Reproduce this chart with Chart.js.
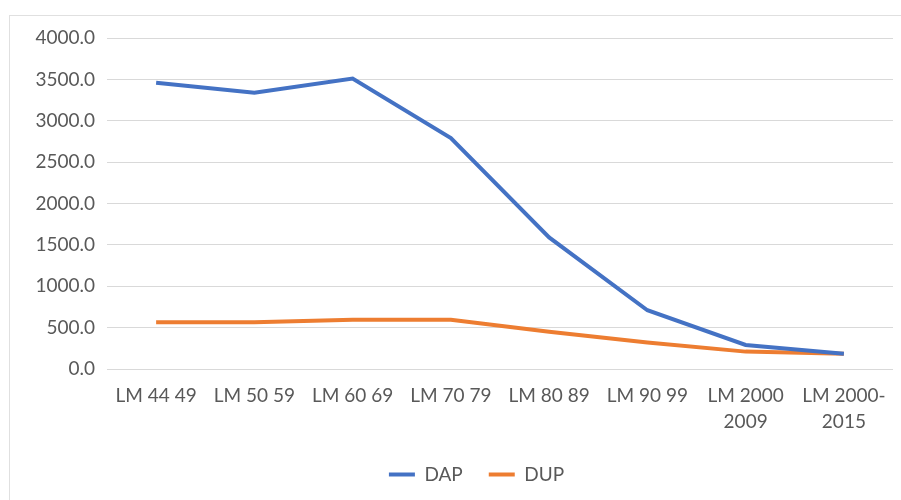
<!DOCTYPE html>
<html>
<head>
<meta charset="utf-8">
<script src="https://cdn.jsdelivr.net/npm/chart.js@4"></script>
<style>
  html, body { margin: 0; padding: 0; background: #fff; overflow: hidden; }
  #wrap { position: relative; width: 901px; height: 500px; }
  #frame { position: absolute; left: 9px; top: 15px; width: 900px; height: 500px; border: 1px solid #e0e0e0; }
  canvas { position: absolute; left: 0; top: 0; }
</style>
</head>
<body>
<div id="wrap">
  <div id="frame"></div>
  <canvas id="chart" width="901" height="500"></canvas>
</div>
<script>
// categories (x axis)
const periods = [
    'LM 44 49', 'LM 50 59', 'LM 60 69', 'LM 70 79',
    'LM 80 89', 'LM 90 99', ['LM 2000', '2009'], ['LM 2000-', '2015']
];

// series values
const dapValues = [3460, 3340, 3510, 2790, 1590, 710, 290, 185];
const dupValues = [565, 565, 595, 595, 450, 320, 210, 185];

// y axis ticks
const yMin = 0;
const yMax = 4000;
const yStep = 500;

const textColor = '#595959';
const gridColor = '#d9d9d9';
const fontFamily = 'Lato, "Open Sans", sans-serif';

// legend sits a bit right of the canvas centre in the original
const legendShift = {
    id: 'legendShift',
    afterLayout(chart) {
        chart.legend.left += 60;
    }
};

const ctx = document.getElementById('chart').getContext('2d');

new Chart(ctx, {
    type: 'line',
    data: {
        labels: periods,
        datasets: [
            {
                label: 'DAP',
                data: dapValues,
                borderColor: '#4472C4',
                backgroundColor: '#4472C4',
                borderWidth: 4,
                pointRadius: 0,
                tension: 0
            },
            {
                label: 'DUP',
                data: dupValues,
                borderColor: '#ED7D31',
                backgroundColor: '#ED7D31',
                borderWidth: 4,
                pointRadius: 0,
                tension: 0
            }
        ]
    },
    plugins: [legendShift],
    options: {
        responsive: false,
        animation: false,
        layout: { padding: { top: 38, right: 8, left: 0, bottom: 6 } },
        plugins: {
            tooltip: { enabled: false },
            legend: {
                position: 'bottom',
                labels: {
                    color: textColor,
                    font: { family: fontFamily, size: 19 },
                    usePointStyle: true,
                    pointStyle: 'line',
                    pointStyleWidth: 26,
                    boxHeight: 4,
                    padding: 26
                }
            }
        },
        scales: {
            x: {
                offset: true,
                afterFit: scale => { scale.height = 70; },
                grid: { display: false },
                border: { display: false },
                ticks: {
                    color: textColor,
                    font: { family: fontFamily, size: 19, lineHeight: 26 / 19 },
                    maxRotation: 0,
                    padding: 6
                }
            },
            y: {
                min: yMin,
                max: yMax,
                afterFit: scale => { scale.width = 107; },
                grid: { color: gridColor, lineWidth: 1, drawTicks: false },
                border: { display: false },
                ticks: {
                    stepSize: yStep,
                    color: textColor,
                    font: { family: fontFamily, size: 19 },
                    padding: 12,
                    callback: v => v.toFixed(1)
                }
            }
        }
    }
});
</script>
</body>
</html>
